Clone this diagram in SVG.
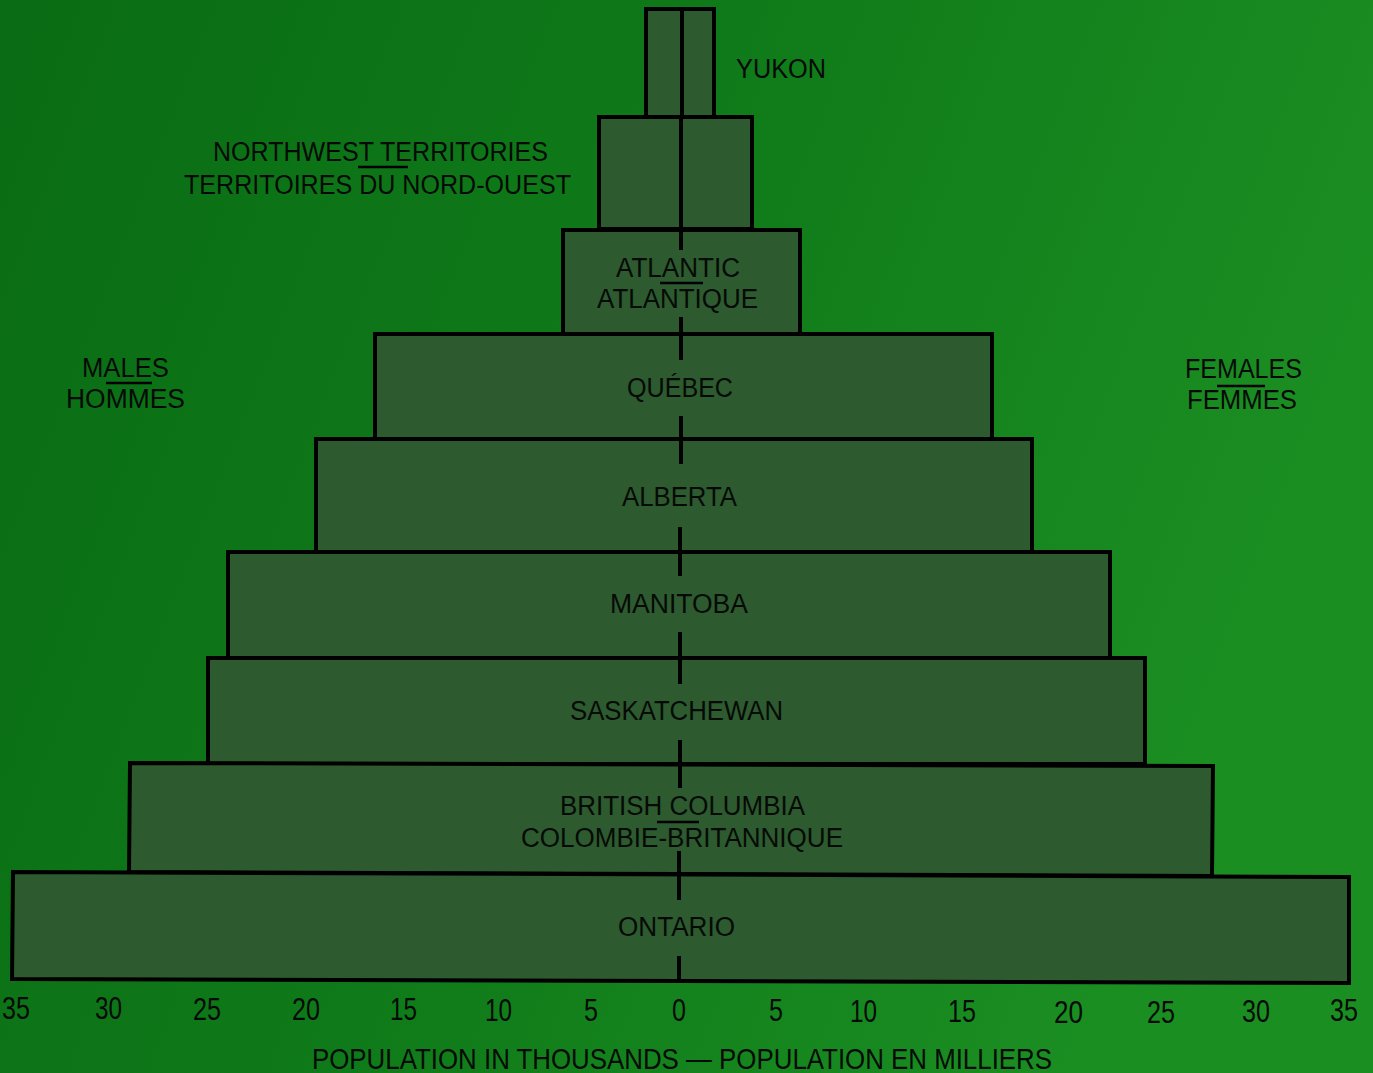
<svg xmlns="http://www.w3.org/2000/svg" width="1373" height="1073" viewBox="0 0 1373 1073">
<defs>
<linearGradient id="bg" x1="0" y1="0" x2="1" y2="0.3">
<stop offset="0" stop-color="#0a6c14"/>
<stop offset="0.5" stop-color="#0f7a19"/>
<stop offset="1" stop-color="#1b8e22"/>
</linearGradient>
<style>
.bar{fill:#2d5a2f;stroke:#000;stroke-width:4;stroke-linejoin:miter}
.lbl{font-family:"Liberation Sans",Arial,sans-serif;font-size:27px;fill:#060a06;text-anchor:start}
.num{font-family:"Liberation Sans",Arial,sans-serif;font-size:31px;fill:#060a06}
.cap{font-family:"Liberation Sans",Arial,sans-serif;font-size:30px;fill:#060a06}
.sep{stroke:#000;stroke-width:2.5}
.axis{stroke:#000;stroke-width:4;fill:none}
</style>
</defs>
<rect x="0" y="0" width="1373" height="1073" fill="url(#bg)"/>

<g id="yukon">
<rect class="bar" x="646" y="9" width="68" height="108"/>
<text class="lbl" x="736" y="78" textLength="90" lengthAdjust="spacingAndGlyphs">YUKON</text>
</g>
<g id="nwt">
<rect class="bar" x="599" y="117" width="153" height="112"/>
<text class="lbl" x="213" y="161" textLength="335" lengthAdjust="spacingAndGlyphs">NORTHWEST TERRITORIES</text>
<line class="sep" x1="358" y1="167" x2="408" y2="167"/>
<text class="lbl" x="184" y="194" textLength="387" lengthAdjust="spacingAndGlyphs">TERRITOIRES DU NORD-OUEST</text>
</g>
<g id="atlantic">
<rect class="bar" x="563" y="230" width="237" height="104"/>
<text class="lbl" x="616" y="277" textLength="124" lengthAdjust="spacingAndGlyphs">ATLANTIC</text>
<line class="sep" x1="660" y1="283" x2="703" y2="283"/>
<text class="lbl" x="597" y="308" textLength="161" lengthAdjust="spacingAndGlyphs">ATLANTIQUE</text>
</g>
<g id="quebec">
<rect class="bar" x="375" y="334" width="617" height="105"/>
<text class="lbl" x="627" y="397" textLength="106" lengthAdjust="spacingAndGlyphs">QUÉBEC</text>
</g>
<g id="alberta">
<rect class="bar" x="316" y="439" width="716" height="113"/>
<text class="lbl" x="622" y="506" textLength="115" lengthAdjust="spacingAndGlyphs">ALBERTA</text>
</g>
<g id="manitoba">
<rect class="bar" x="228" y="552" width="882" height="106"/>
<text class="lbl" x="610" y="613" textLength="138" lengthAdjust="spacingAndGlyphs">MANITOBA</text>
</g>
<g id="saskatchewan">
<rect class="bar" x="208" y="658" width="937" height="106"/>
<text class="lbl" x="570" y="720" textLength="213" lengthAdjust="spacingAndGlyphs">SASKATCHEWAN</text>
</g>
<g id="british-columbia">
<polygon class="bar" points="130,763 1213,766 1212,876 129,872"/>
<text class="lbl" x="560" y="815" textLength="245" lengthAdjust="spacingAndGlyphs">BRITISH COLUMBIA</text>
<line class="sep" x1="657" y1="822" x2="699" y2="822"/>
<text class="lbl" x="521" y="847" textLength="322" lengthAdjust="spacingAndGlyphs">COLOMBIE-BRITANNIQUE</text>
</g>
<g id="ontario">
<polygon class="bar" points="13,872 1349,877 1349,983 12,979"/>
<text class="lbl" x="618" y="936" textLength="117" lengthAdjust="spacingAndGlyphs">ONTARIO</text>
</g>

<g id="connectors">
<line class="axis" x1="682" y1="9" x2="682" y2="117"/>
<line class="axis" x1="681" y1="117" x2="681" y2="230"/>
<line class="axis" x1="681" y1="230" x2="681" y2="250"/>
<line class="axis" x1="681" y1="317" x2="681" y2="360"/>
<line class="axis" x1="681" y1="416" x2="681" y2="464"/>
<line class="axis" x1="680" y1="527" x2="680" y2="576"/>
<line class="axis" x1="680" y1="632" x2="680" y2="684"/>
<line class="axis" x1="680" y1="740" x2="680" y2="788"/>
<line class="axis" x1="679" y1="851" x2="679" y2="900"/>
<line class="axis" x1="679" y1="956" x2="679" y2="981"/>
</g>

<g id="males">
<text class="lbl" x="82" y="377" textLength="87" lengthAdjust="spacingAndGlyphs">MALES</text>
<line class="sep" x1="106" y1="383" x2="152" y2="383"/>
<text class="lbl" x="66" y="408" textLength="119" lengthAdjust="spacingAndGlyphs">HOMMES</text>
</g>
<g id="females">
<text class="lbl" x="1185" y="378" textLength="117" lengthAdjust="spacingAndGlyphs">FEMALES</text>
<line class="sep" x1="1217" y1="386" x2="1265" y2="386"/>
<text class="lbl" x="1187" y="409" textLength="110" lengthAdjust="spacingAndGlyphs">FEMMES</text>
</g>

<g id="scale">
<text class="num" x="2" y="1019" textLength="28" lengthAdjust="spacingAndGlyphs">35</text>
<text class="num" x="95" y="1019" textLength="27" lengthAdjust="spacingAndGlyphs">30</text>
<text class="num" x="193" y="1020" textLength="28" lengthAdjust="spacingAndGlyphs">25</text>
<text class="num" x="292" y="1020" textLength="28" lengthAdjust="spacingAndGlyphs">20</text>
<text class="num" x="390" y="1020" textLength="27" lengthAdjust="spacingAndGlyphs">15</text>
<text class="num" x="485" y="1021" textLength="27" lengthAdjust="spacingAndGlyphs">10</text>
<text class="num" x="584" y="1021" textLength="14" lengthAdjust="spacingAndGlyphs">5</text>
<text class="num" x="672" y="1021" textLength="14" lengthAdjust="spacingAndGlyphs">0</text>
<text class="num" x="769" y="1021" textLength="14" lengthAdjust="spacingAndGlyphs">5</text>
<text class="num" x="850" y="1022" textLength="27" lengthAdjust="spacingAndGlyphs">10</text>
<text class="num" x="948" y="1022" textLength="28" lengthAdjust="spacingAndGlyphs">15</text>
<text class="num" x="1054" y="1023" textLength="29" lengthAdjust="spacingAndGlyphs">20</text>
<text class="num" x="1147" y="1023" textLength="28" lengthAdjust="spacingAndGlyphs">25</text>
<text class="num" x="1242" y="1022" textLength="28" lengthAdjust="spacingAndGlyphs">30</text>
<text class="num" x="1330" y="1021" textLength="28" lengthAdjust="spacingAndGlyphs">35</text>
<text class="cap" x="312" y="1069" textLength="740" lengthAdjust="spacingAndGlyphs">POPULATION IN THOUSANDS — POPULATION EN MILLIERS</text>
</g>
</svg>
